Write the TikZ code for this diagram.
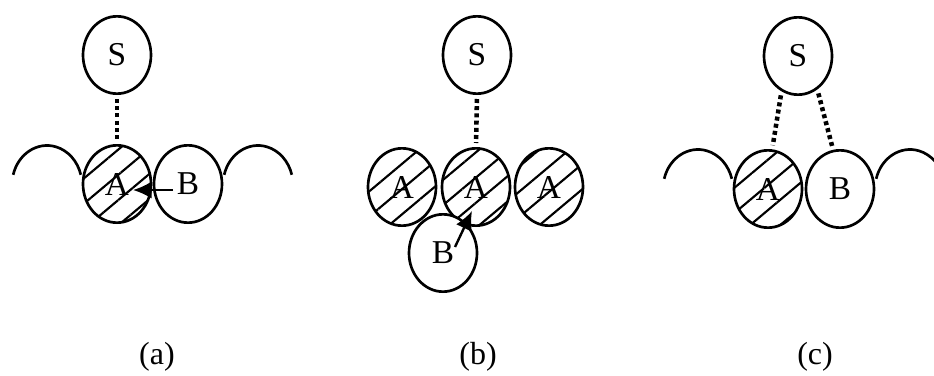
\documentclass[tikz,border=0pt]{standalone}
\usepackage{fontspec}
\setmainfont{Liberation Serif}
\usetikzlibrary{shapes.geometric,arrows.meta,patterns.meta}

\tikzset{every picture/.style={line width=0.75pt}}
\tikzset{
  bead/.style={ellipse,draw,line width=2pt,minimum width=51pt,minimum height=58pt,inner sep=0pt,font=\fontsize{25}{29}\selectfont},
  hatched/.style={bead,pattern={Lines[angle=40,distance=14.5pt,line width=1.6pt]}},
  bond/.style={line width=3.4pt,dash pattern={on 3pt off 2.4pt},shorten <=3pt,shorten >=3pt},
  push/.style={line width=1.8pt,-{Latex[length=14pt,width=13pt]}},
  chain/.style={line width=2pt},
  caption/.style={inner sep=0.75pt,font=\fontsize{24}{28}\selectfont}
}

\begin{document}
\begin{tikzpicture}[x=0.75pt,y=0.75pt,yscale=-1,xscale=1]
\useasboundingbox (0,0) rectangle (934,375);

%% (a)
\node [bead] (aS) at (117,55) {S};
\node [hatched] (aA) at (117,184) {A};
\node [bead] (aB) at (188,184) {B};
%Arcs
\draw [chain] (47,185) ++(195:35 and 39.5) arc [start angle=195,end angle=345,x radius=35,y radius=39.5];
\draw [chain] (258,185) ++(195:35 and 39.5) arc [start angle=195,end angle=345,x radius=35,y radius=39.5];
%Dotted Lines
\draw [bond] (aS.south) -- (aA.north);
%Arrow
\coordinate (aTail) at (173,190);
\coordinate (aTip) at (133,190);
\draw [push] (aTail) -- (aTip);

%% (b)
\node [bead] (bS) at (477,55) {S};
\node [hatched] (bA1) at (402,187) {A};
\node [hatched] (bA2) at (476,187) {A};
\node [hatched] (bA3) at (549,187) {A};
\node [bead,fill=white] (bB) at (443,253) {B};
%Dotted Lines
\draw [bond] (bS.south) -- (bA2.north);
%Arrow
\coordinate (bTail) at (455,247);
\coordinate (bTip) at (472,211);
\draw [push] (bTail) -- (bTip);

%% (c)
\node [bead] (cS) at (798,56) {S};
\node [hatched] (cA) at (768,189) {A};
\node [bead] (cB) at (840,189) {B};
%Arcs
\draw [chain] (698,189) ++(195:35 and 39.5) arc [start angle=195,end angle=345,x radius=35,y radius=39.5];
\draw [chain] (910,189) ++(195:35 and 39.5) arc [start angle=195,end angle=315,x radius=35,y radius=39.5];
%Dotted Lines
\draw [bond] (cS.245) -- (cA.84);
\draw [bond] (cS.300) -- (cB.100);

% Text Node
\node [caption] (capA) at (157,357) {(a)};
% Text Node
\node [caption] (capB) at (478,357) {(b)};
% Text Node
\node [caption] (capC) at (815,357) {(c)};
\end{tikzpicture}
\end{document}
